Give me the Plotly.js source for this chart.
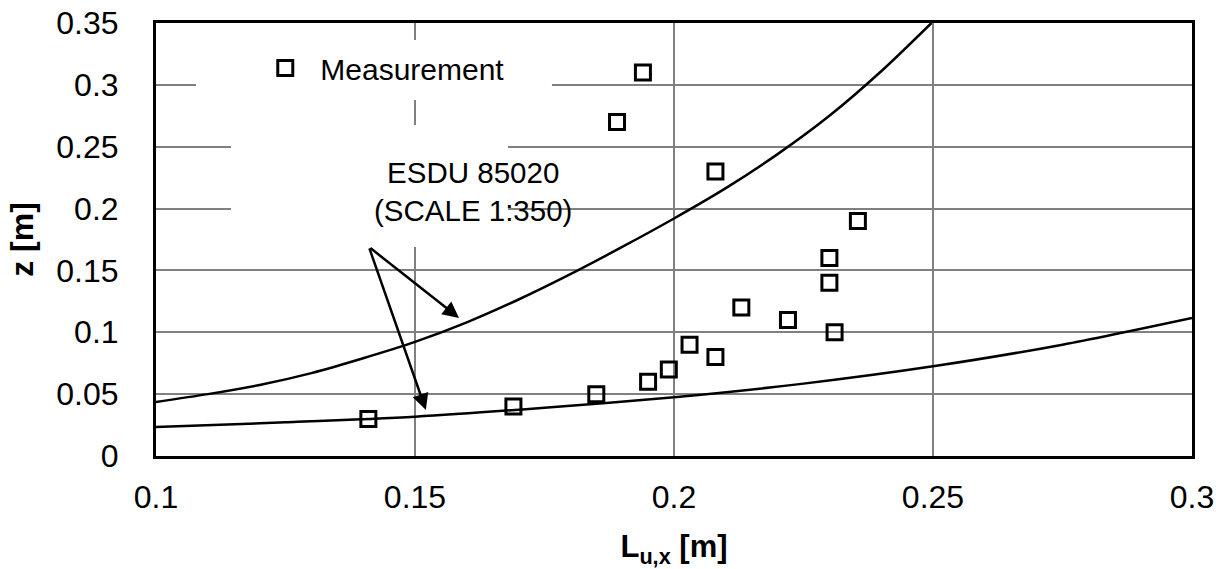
<!DOCTYPE html>
<html>
<head>
<meta charset="utf-8">
<script src="https://cdn.plot.ly/plotly-3.0.1.min.js"></script>
<style>html,body{margin:0;padding:0;background:#fff}#chart{width:1216px;height:569px}</style>
</head>
<body>
<div id="chart"></div>
<script>
// Measurement points
const measLx = [0.194, 0.189, 0.208, 0.2355, 0.230, 0.230, 0.213, 0.222, 0.231, 0.203, 0.208, 0.199, 0.195, 0.185, 0.169, 0.141];
const measZ  = [0.310, 0.270, 0.230, 0.190,  0.160, 0.140, 0.120, 0.110, 0.100, 0.090, 0.080, 0.070, 0.060, 0.050, 0.040, 0.030];

// ESDU 85020 curves
const upperLx = [0.1, 0.11, 0.12, 0.13, 0.14, 0.15, 0.16, 0.17, 0.18, 0.19, 0.2, 0.21, 0.22, 0.23, 0.24, 0.2497];
const upperZ  = [0.0437, 0.050, 0.0574, 0.067, 0.079, 0.0922, 0.108, 0.1265, 0.147, 0.169, 0.192, 0.2165, 0.244, 0.275, 0.311, 0.35];
const lowerLx = [0.1, 0.125, 0.15, 0.175, 0.2, 0.225, 0.25, 0.275, 0.3];
const lowerZ  = [0.0234, 0.0272, 0.0318, 0.039, 0.0475, 0.0585, 0.0725, 0.090, 0.1116];

const xTicks = [0.1, 0.15, 0.2, 0.25, 0.3];
const yTicks = [0, 0.05, 0.1, 0.15, 0.2, 0.25, 0.3, 0.35];

const FONT = '"Liberation Sans", Arial, sans-serif';

const traces = [
  {x: upperLx, y: upperZ, mode: 'lines', line: {color: '#000', width: 2.5, shape: 'spline', smoothing: 0.8}, showlegend: false, hoverinfo: 'skip'},
  {x: lowerLx, y: lowerZ, mode: 'lines', line: {color: '#000', width: 2.5, shape: 'spline', smoothing: 0.8}, showlegend: false, hoverinfo: 'skip'},
  {x: measLx, y: measZ, mode: 'markers', name: 'Measurement',
   marker: {symbol: 'square-open', size: 15, color: '#000', line: {color: '#000', width: 3}}}
];

const layout = {
  width: 1216, height: 569,
  margin: {l: 156, r: 24, t: 23, b: 113},
  paper_bgcolor: '#fff', plot_bgcolor: '#fff',
  font: {family: FONT, color: '#000'},
  showlegend: true,
  legend: {x: 0.091, y: 0.896, xanchor: 'left', yanchor: 'middle', bgcolor: 'rgba(0,0,0,0)',
           font: {size: 30, family: FONT}, itemwidth: 60},
  xaxis: {
    range: [0.1, 0.3], tickvals: xTicks, ticktext: xTicks.map(String),
    showgrid: true, gridcolor: '#808080', gridwidth: 2,
    zeroline: false, showline: true, linecolor: '#000', linewidth: 3, mirror: true,
    ticks: '', ticklabelstandoff: 11,
    tickfont: {size: 32, family: FONT},
    title: {text: 'L<sub>u,x</sub> [m]', font: {size: 31, family: FONT, weight: 'bold'}, standoff: 25}
  },
  yaxis: {
    range: [0, 0.35], tickvals: yTicks, ticktext: yTicks.map(String),
    showgrid: true, gridcolor: '#808080', gridwidth: 2,
    zeroline: false, showline: true, linecolor: '#000', linewidth: 3, mirror: true,
    ticks: '', ticklabelstandoff: 28,
    tickfont: {size: 32, family: FONT},
    title: {text: 'z [m]', font: {size: 32, family: FONT, weight: 'bold'}, standoff: 14}
  },
  shapes: [
    {type: 'rect', xref: 'paper', yref: 'paper', x0: 0.0386, x1: 0.3822, y0: 0.8222, y1: 0.9607,
     fillcolor: '#fff', line: {width: 0}, layer: 'above'},
    {type: 'rect', xref: 'paper', yref: 'paper', x0: 0.0724, x1: 0.3398, y0: 0.4827, y1: 0.7644,
     fillcolor: '#fff', line: {width: 0}, layer: 'above'}
  ],
  annotations: [
    {xref: 'paper', yref: 'paper', x: 0.2085, y: 0.6097, text: 'ESDU 85020<br>(SCALE 1:350)',
     showarrow: false, font: {size: 29.5, family: FONT}, align: 'center'},
    {x: 0.1585, y: 0.1116, ax: 0.1411, ay: 0.169, axref: 'x', ayref: 'y', text: '',
     showarrow: true, arrowhead: 2, arrowsize: 1.3, arrowwidth: 2.5, arrowcolor: '#000'},
    {x: 0.1521, y: 0.0372, ax: 0.1411, ay: 0.169, axref: 'x', ayref: 'y', text: '',
     showarrow: true, arrowhead: 2, arrowsize: 1.3, arrowwidth: 2.5, arrowcolor: '#000'}
  ]
};

Plotly.newPlot('chart', traces, layout, {displayModeBar: false, staticPlot: true});
</script>
</body>
</html>
